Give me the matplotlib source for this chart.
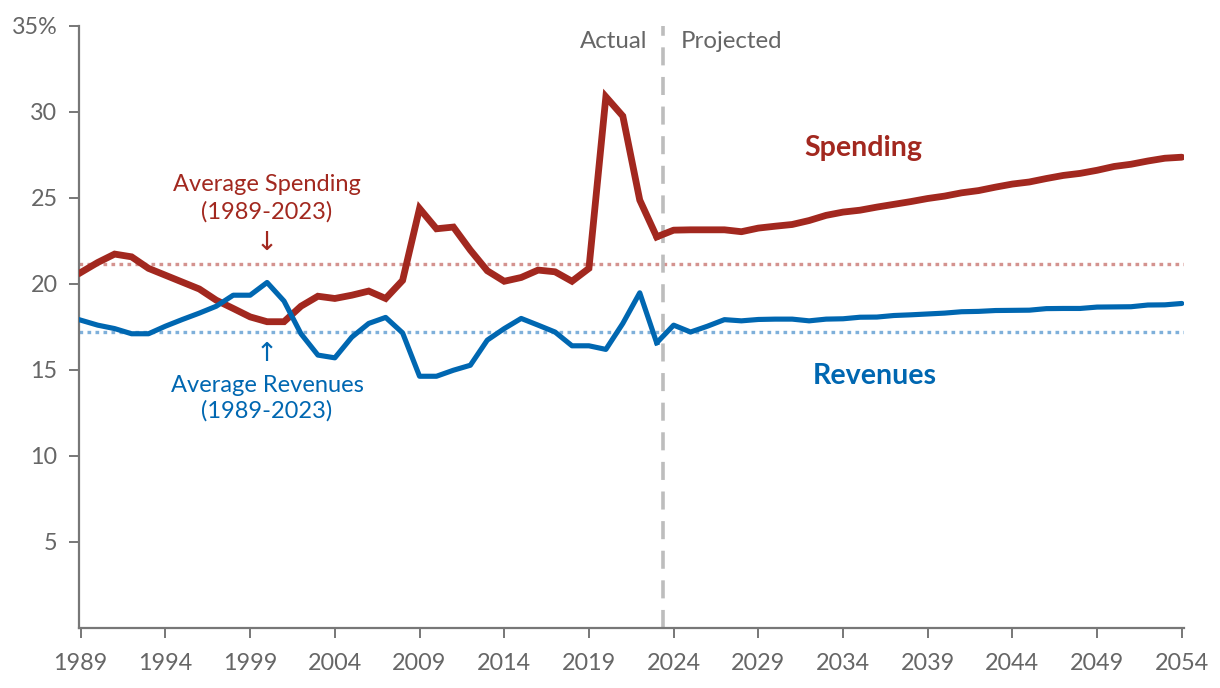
import matplotlib
matplotlib.use("Agg")
import matplotlib.pyplot as plt

plt.rcParams['font.family'] = ['Lato', 'DejaVu Sans']

hist_years = list(range(1989, 2024))
proj_years = list(range(2023, 2055))

spending_hist = [20.66, 21.24, 21.73, 21.57, 20.9, 20.5, 20.1, 19.7, 19.05, 18.57,
                 18.08, 17.8, 17.8, 18.7, 19.28, 19.15, 19.34, 19.58, 19.15, 20.2,
                 24.38, 23.2, 23.3, 21.96, 20.76, 20.15, 20.37, 20.8, 20.7, 20.15,
                 20.9, 30.87, 29.75, 24.87, 22.73]
revenue_hist = [17.89, 17.6, 17.4, 17.1, 17.1, 17.54, 17.93, 18.3, 18.7, 19.34,
                19.34, 20.08, 19.0, 17.1, 15.86, 15.7, 16.9, 17.7, 18.05, 17.15,
                14.63, 14.63, 14.98, 15.27, 16.73, 17.4, 17.99, 17.6, 17.2, 16.4,
                16.4, 16.19, 17.7, 19.48, 16.57]

spending_proj = [22.73, 23.12, 23.14, 23.14, 23.14, 23.03, 23.24, 23.35, 23.45, 23.68,
                 23.98, 24.17, 24.28, 24.46, 24.62, 24.78, 24.96, 25.1, 25.29, 25.42,
                 25.62, 25.8, 25.92, 26.12, 26.3, 26.42, 26.6, 26.82, 26.95, 27.14,
                 27.3, 27.36]
revenue_proj = [16.57, 17.6, 17.2, 17.54, 17.92, 17.85, 17.93, 17.95, 17.95, 17.85,
                17.95, 17.97, 18.06, 18.07, 18.16, 18.2, 18.25, 18.3, 18.38, 18.4,
                18.45, 18.46, 18.47, 18.56, 18.57, 18.57, 18.65, 18.66, 18.67, 18.77,
                18.78, 18.86]

avg_spending = 21.15
avg_revenue = 17.23

x_ticks = list(range(1989, 2055, 5))
y_ticks = [5, 10, 15, 20, 25, 30, 35]
y_labels = ['5', '10', '15', '20', '25', '30', '35%']

RED = '#a2281f'
BLUE = '#0067b1'
GRAY_TXT = '#666666'
AX = '#777777'

fig = plt.figure(figsize=(12.2, 6.88), dpi=100)
ax = fig.add_axes([0.0648, 0.0872, 0.9057, 0.8754])

ax.axhline(avg_spending, color='#d4938f', lw=2.4, ls=(0, (1.1, 1.3)), zorder=1)
ax.axhline(avg_revenue, color='#7fb0da', lw=2.4, ls=(0, (1.1, 1.3)), zorder=1)
ax.axvline(2023.4, color='#bdbdbd', lw=2.6, ls=(0, (5, 3.2)), zorder=1)

ax.plot(hist_years, spending_hist, color=RED, lw=4.9, solid_joinstyle='miter', zorder=3)
ax.plot(proj_years, spending_proj, color=RED, lw=4.9, solid_capstyle='round', zorder=3)
ax.plot(hist_years, revenue_hist, color=BLUE, lw=3.7, zorder=3)
ax.plot(proj_years, revenue_proj, color=BLUE, lw=3.7, solid_capstyle='round', zorder=3)

ax.set_xlim(1988.9, 2054.13)
ax.set_ylim(0, 35)
ax.set_xticks(x_ticks)
ax.set_xticklabels([str(v) for v in x_ticks])
ax.set_yticks(y_ticks)
ax.set_yticklabels(y_labels)

for s in ['top', 'right']:
    ax.spines[s].set_visible(False)
for s in ['left', 'bottom']:
    ax.spines[s].set_color(AX)
    ax.spines[s].set_linewidth(1.6)
ax.tick_params(axis='both', colors=AX, length=7, width=1.4, labelsize=16.8,
               labelcolor=GRAY_TXT)
ax.tick_params(axis='x', pad=11)
ax.tick_params(axis='y', pad=8.5)

ax.text(2022.45, 34.1, 'Actual', ha='right', va='center', color=GRAY_TXT, fontsize=17.3)
ax.text(2024.4, 34.1, 'Projected', ha='left', va='center', color=GRAY_TXT, fontsize=17.3)

ax.text(2035.2, 27.88, 'Spending', ha='center', va='center', color=RED,
        fontsize=20.6, fontweight='bold')
ax.text(2035.86, 14.63, 'Revenues', ha='center', va='center', color=BLUE,
        fontsize=20.6, fontweight='bold')

ax.text(2000.0, 25.8, 'Average Spending', ha='center', va='center', color=RED, fontsize=17)
ax.text(2000.0, 24.2, '(1989-2023)', ha='center', va='center', color=RED, fontsize=17)
ax.text(2000.0, 22.35, '↓', ha='center', va='center', color=RED, fontsize=19,
        family=['DejaVu Sans'])
ax.text(2000.0, 15.95, '↑', ha='center', va='center', color=BLUE, fontsize=19,
        family=['DejaVu Sans'])
ax.text(2000.0, 14.1, 'Average Revenues', ha='center', va='center', color=BLUE, fontsize=17)
ax.text(2000.0, 12.6, '(1989-2023)', ha='center', va='center', color=BLUE, fontsize=17)

fig.savefig('out.png', dpi=100)
